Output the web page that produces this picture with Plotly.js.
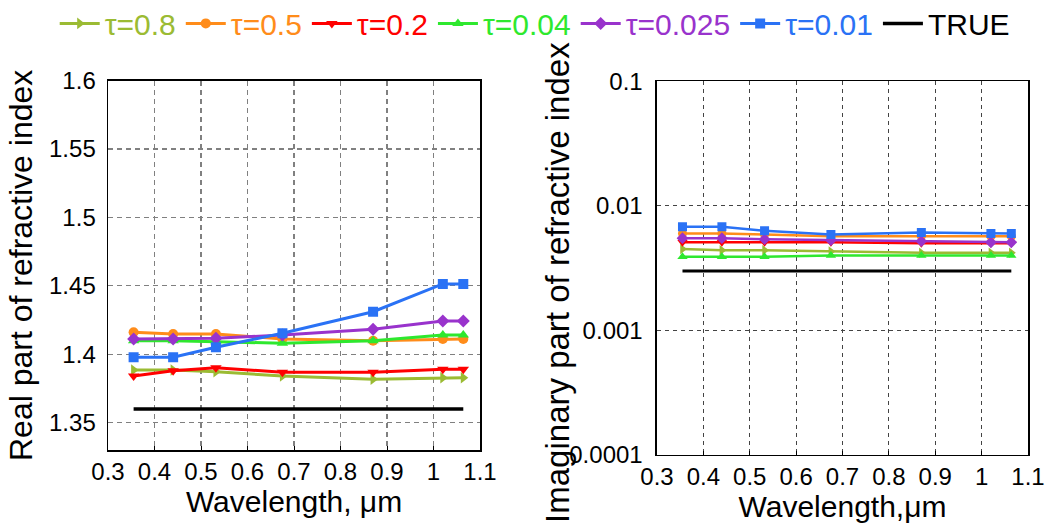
<!DOCTYPE html>
<html>
<head>
<meta charset="utf-8">
<script src="https://cdn.plot.ly/plotly-3.0.1.min.js"></script>
<style>
  html, body { margin: 0; padding: 0; background: #ffffff; }
  #chart { width: 1052px; height: 524px; }
</style>
</head>
<body>
<div id="chart"></div>
<script>
// Wavelengths (µm) of the retrieval channels
const wavelength = [0.355, 0.44, 0.532, 0.675, 0.87, 1.02, 1.064];

// Series labels (optical depth) and colours
const seriesNames = ['τ=0.8', 'τ=0.5', 'τ=0.2', 'τ=0.04', 'τ=0.025', 'τ=0.01'];
const seriesColors = ['#9BBB33', '#FF8C1A', '#FF0000', '#2EE82E', '#9933CC', '#2A72F5'];
const seriesSymbols = ['triangle-right', 'circle', 'triangle-down', 'triangle-up', 'diamond', 'square'];

// Retrieved real part of the refractive index
const realTau08   = [1.3885, 1.3885, 1.3873, 1.3841, 1.3817, 1.3829, 1.3829];
const realTau05   = [1.4161, 1.4148, 1.4148, 1.4112, 1.4099, 1.4112, 1.4112];
const realTau02   = [1.3841, 1.3880, 1.3902, 1.3868, 1.3868, 1.3890, 1.3890];
const realTau004  = [1.4099, 1.4099, 1.4092, 1.4080, 1.4099, 1.4141, 1.4141];
const realTau0025 = [1.4112, 1.4112, 1.4117, 1.4141, 1.4183, 1.4243, 1.4243];
const realTau001  = [1.3978, 1.3978, 1.4051, 1.4154, 1.4311, 1.4514, 1.4514];
const realTrue    = [1.36, 1.36, 1.36, 1.36, 1.36, 1.36, 1.36];

// Retrieved imaginary part of the refractive index
const imagTau08   = [0.0045, 0.0044, 0.0044, 0.0043, 0.0042, 0.0042, 0.0042];
const imagTau05   = [0.0060, 0.0060, 0.0059, 0.0057, 0.0057, 0.0057, 0.0057];
const imagTau02   = [0.0051, 0.0051, 0.0051, 0.0051, 0.0050, 0.0050, 0.0050];
const imagTau004  = [0.0039, 0.0039, 0.0039, 0.0040, 0.0040, 0.0040, 0.0040];
const imagTau0025 = [0.0055, 0.0055, 0.0054, 0.0053, 0.0052, 0.0051, 0.0051];
const imagTau001  = [0.0068, 0.0068, 0.0063, 0.0059, 0.0061, 0.0060, 0.0060];
const imagTrue    = [0.003, 0.003, 0.003, 0.003, 0.003, 0.003, 0.003];

// Tick labels
const xTickVals = [0.3, 0.4, 0.5, 0.6, 0.7, 0.8, 0.9, 1.0, 1.1];
const xTickText = ['0.3', '0.4', '0.5', '0.6', '0.7', '0.8', '0.9', '1', '1.1'];
const realTickVals = [1.35, 1.4, 1.45, 1.5, 1.55, 1.6];
const realTickText = ['1.35', '1.4', '1.45', '1.5', '1.55', '1.6'];
const imagTickVals = [0.0001, 0.001, 0.01, 0.1];
const imagTickText = ['0.0001', '0.001', '0.01', '0.1'];

const realSeries = [realTau08, realTau05, realTau02, realTau004, realTau0025, realTau001];
const imagSeries = [imagTau08, imagTau05, imagTau02, imagTau004, imagTau0025, imagTau001];

const FONT = 'Liberation Sans, Arial, Helvetica, sans-serif';
const traces = [];

seriesNames.forEach((name, i) => {
  traces.push({
    x: wavelength, y: realSeries[i], xaxis: 'x', yaxis: 'y',
    type: 'scatter', mode: 'lines+markers',
    name: '<span style="color:' + seriesColors[i] + '">' + name + '</span>',
    legendgroup: 'g' + i,
    line: { color: seriesColors[i], width: 3 },
    marker: { color: seriesColors[i], symbol: seriesSymbols[i], size: 10 }
  });
});
traces.push({
  x: wavelength, y: realTrue, xaxis: 'x', yaxis: 'y',
  type: 'scatter', mode: 'lines', name: 'TRUE', legendgroup: 'true',
  line: { color: '#000000', width: 3.5 }
});

seriesNames.forEach((name, i) => {
  traces.push({
    x: wavelength, y: imagSeries[i], xaxis: 'x2', yaxis: 'y2',
    type: 'scatter', mode: 'lines+markers',
    name: name, legendgroup: 'g' + i, showlegend: false,
    line: { color: seriesColors[i], width: 2.5 },
    marker: { color: seriesColors[i], symbol: seriesSymbols[i], size: 9 }
  });
});
traces.push({
  x: wavelength, y: imagTrue, xaxis: 'x2', yaxis: 'y2',
  type: 'scatter', mode: 'lines', name: 'TRUE', legendgroup: 'true', showlegend: false,
  line: { color: '#000000', width: 3 }
});

const frame = { showline: true, linecolor: '#000000', linewidth: 1.5, mirror: true, zeroline: false };

const layout = {
  width: 1052, height: 524,
  margin: { l: 0, r: 0, t: 0, b: 0, autoexpand: false },
  paper_bgcolor: '#ffffff', plot_bgcolor: '#ffffff',
  font: { family: FONT, color: '#000000', size: 24 },
  showlegend: true,
  legend: {
    orientation: 'h', x: 0.052, y: 1.005, xanchor: 'left', yanchor: 'top',
    font: { family: FONT, size: 30, color: '#000000' },
    bgcolor: 'rgba(0,0,0,0)', itemwidth: 40, tracegroupgap: 0
  },
  xaxis: Object.assign({}, frame, {
    domain: [0.1027, 0.4563], range: [0.3, 1.1],
    tickvals: xTickVals, ticktext: xTickText,
    ticks: 'inside', ticklen: 4, tickcolor: '#000000',
    showgrid: true, gridcolor: '#808080', gridwidth: 1.2, griddash: '5px,4px',
    tickfont: { size: 24 },
    title: { text: 'Wavelength, μm', font: { size: 30 }, standoff: 3 },
    anchor: 'y'
  }),
  yaxis: Object.assign({}, frame, {
    domain: [0.1412, 0.846], range: [1.33, 1.6],
    tickvals: realTickVals, ticktext: realTickText,
    ticks: '', showgrid: true, gridcolor: '#808080', gridwidth: 1.2, griddash: '5px,4px',
    tickfont: { size: 24 }, ticklabelstandoff: 6,
    title: { text: 'Real part of refractive index', font: { size: 32 }, standoff: 7 },
    anchor: 'x'
  }),
  xaxis2: Object.assign({}, frame, {
    domain: [0.6245, 0.9772], range: [0.3, 1.1],
    tickvals: xTickVals, ticktext: xTickText,
    ticks: 'inside', ticklen: 4, tickcolor: '#000000',
    showgrid: true, gridcolor: '#444444', gridwidth: 1, griddash: '4px,4px',
    tickfont: { size: 24 },
    title: { text: 'Wavelength,μm', font: { size: 30 }, standoff: 3 },
    anchor: 'y2'
  }),
  yaxis2: Object.assign({}, frame, {
    domain: [0.1322, 0.8445], type: 'log', range: [-4, -1],
    tickvals: imagTickVals, ticktext: imagTickText,
    ticks: '', showgrid: true, gridcolor: '#444444', gridwidth: 1, griddash: '4px,4px',
    tickfont: { size: 24 }, ticklabelstandoff: 8,
    anchor: 'x2'
  }),
  // Title of the imaginary-part axis, set close against its tick labels
  annotations: [{
    text: 'Imaginary part of refractive index',
    xref: 'paper', yref: 'paper', x: 0.5304, y: 0.462,
    xanchor: 'center', yanchor: 'middle', textangle: -90, showarrow: false,
    font: { family: FONT, size: 33, color: '#000000' }
  }]
};

Plotly.newPlot('chart', traces, layout, { displayModeBar: false, staticPlot: true });
</script>
</body>
</html>
